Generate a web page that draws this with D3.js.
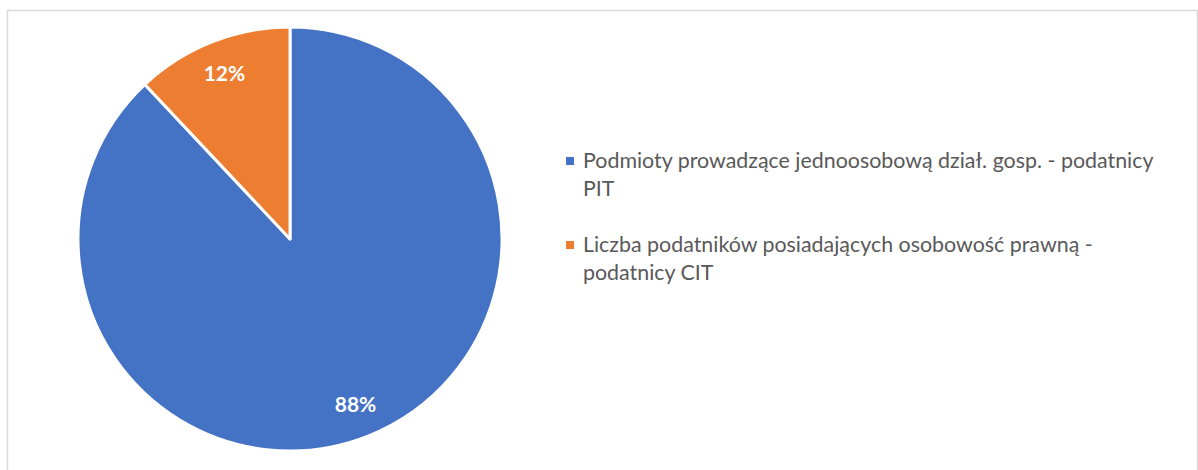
<!DOCTYPE html>
<html>
<head>
<meta charset="utf-8">
<script src="https://cdn.jsdelivr.net/npm/d3@7"></script>
<style>
  body { margin: 0; background: #fff; }
  svg { display: block; }
</style>
</head>
<body>
<svg id="chart" width="1198" height="470"></svg>
<script>
var categories = [
    "Podmioty prowadzące jednoosobową dział. gosp. - podatnicy\nPIT",
    "Liczba podatników posiadających osobowość prawną -\npodatnicy CIT"
];
var values = [88, 12];
var colors = ["#4472C4", "#ED7D31"];

var svg = d3.select("#chart");
var RADIUS = 212;
var cx = 290, cy = 239;

// ramka wykresu
svg.append("rect")
    .attr("x", 7.5).attr("y", 10.5)
    .attr("width", 1190).attr("height", 480)
    .attr("fill", "none")
    .attr("stroke", "#d9d9d9")
    .attr("stroke-width", 1.5);

var pie = d3.pie().sort(null).value(function(d){ return d; });
var arcs = pie(values);
var arc = d3.arc().innerRadius(0).outerRadius(RADIUS);
var labelArc = d3.arc().innerRadius(178).outerRadius(178);

var g = svg.append("g").attr("transform", "translate(" + cx + "," + cy + ")");

g.selectAll("path.slice")
    .data(arcs)
    .enter().append("path")
    .attr("class", "slice")
    .attr("d", arc)
    .attr("fill", function(d, i){ return colors[i]; })
    .attr("stroke", "#fff")
    .attr("stroke-width", 3)
    .attr("stroke-linejoin", "round");

g.selectAll("text.pct")
    .data(arcs)
    .enter().append("text")
    .attr("class", "pct")
    .attr("transform", function(d){ return "translate(" + labelArc.centroid(d) + ")"; })
    .attr("text-anchor", "middle")
    .attr("dy", "0.35em")
    .attr("fill", "#fff")
    .attr("font-family", "Lato, 'Open Sans', sans-serif")
    .attr("font-weight", "bold")
    .attr("font-size", 21)
    .text(function(d){ return d.value + "%"; });

// legenda
var legend = svg.append("g").attr("transform", "translate(566,0)");
var itemTop = [161, 245];
var lineH = 28;

categories.forEach(function(c, i) {
    var item = legend.append("g");
    item.append("rect")
        .attr("x", 0).attr("y", itemTop[i] - 4)
        .attr("width", 8).attr("height", 8)
        .attr("fill", colors[i]);
    var t = item.append("text")
        .attr("x", 17)
        .attr("y", itemTop[i])
        .attr("fill", "#595959")
        .attr("font-family", "Lato, 'Open Sans', sans-serif")
        .attr("font-size", 21.4);
    c.split("\n").forEach(function(line, k) {
        t.append("tspan")
            .attr("x", 17)
            .attr("y", itemTop[i] + k * lineH)
            .attr("dy", "0.35em")
            .text(line);
    });
});
</script>
</body>
</html>
